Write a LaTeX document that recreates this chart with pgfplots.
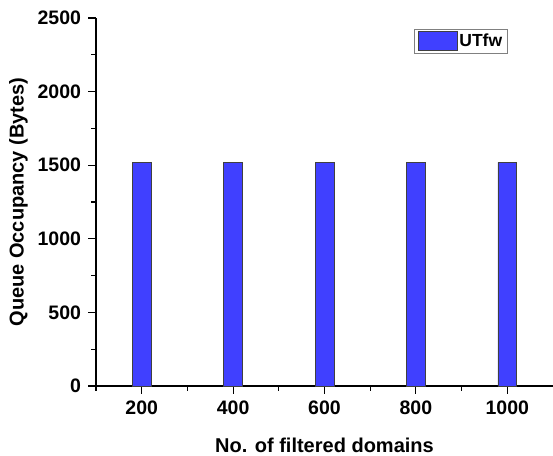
\documentclass[border=0pt]{standalone}
\usepackage{fontspec}
\setmainfont{Liberation Sans}
\usepackage{pgfplots}
\pgfplotsset{compat=1.18}
\definecolor{barblue}{RGB}{64,64,255}
\begin{document}
\begin{tikzpicture}
\begin{axis}[
  scale only axis,
  width=457pt, height=368pt,
  xmin=100, xmax=1100,
  ymin=0, ymax=2500,
  axis lines*=left,
  axis line style={line width=1.2pt},
  xtick={200,400,600,800,1000},
  minor xtick={100,300,500,700,900},
  ytick={0,500,1000,1500,2000,2500},
  minor ytick={250,750,1250,1750,2250},
  tick align=outside,
  major tick length=7.5pt,
  minor tick length=4.5pt,
  tick style={line width=1.1pt, black},
  /pgf/number format/assume math mode=true,
  /pgf/number format/set thousands separator={},
  ticklabel style={font=\fontsize{19.5}{22}\selectfont\bfseries},
  xticklabel style={yshift=-4pt},
  yticklabel style={xshift=-4pt},
  xlabel={No. of filtered domains},
  ylabel={Queue Occupancy (Bytes)},
  label style={font=\fontsize{20}{23}\selectfont\bfseries},
  xlabel style={yshift=-16pt},
  ylabel style={yshift=3pt},
  legend style={at={(rel axis cs:0.696,0.97)}, anchor=north west,
    draw=gray, line width=0.8pt, font=\fontsize{17.5}{20}\selectfont\bfseries,
    inner xsep=3.5pt, inner ysep=2pt, nodes={inner sep=1.8pt}},
  legend image code/.code={\draw[#1] (0pt,-9.5pt) rectangle (39pt,9.5pt);},
]
\addplot[ybar, bar width=41, fill=barblue, draw=black!75, line width=0.6pt]
  coordinates {(200,1520) (400,1520) (600,1520) (800,1520) (1000,1520)};
\addlegendentry{UTfw}
\end{axis}
\pgfresetboundingbox
\path[use as bounding box] ([shift={(-96pt,-69pt)}]current axis.south west) rectangle ([shift={(457pt,386pt)}]current axis.south west);
\end{tikzpicture}
\end{document}
